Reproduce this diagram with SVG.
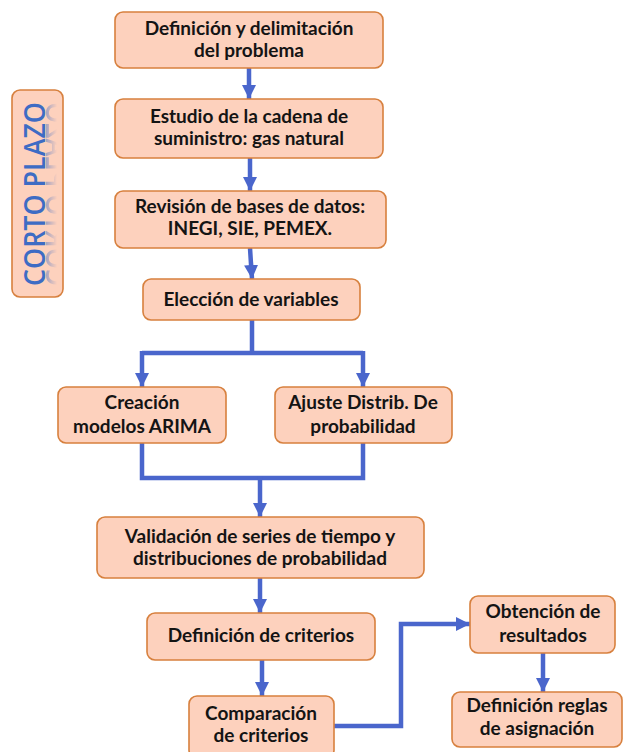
<svg xmlns="http://www.w3.org/2000/svg" width="623" height="752" viewBox="0 0 623 752">
<defs>
<style>
.box{fill:#FDD1BD;stroke:#D7803E;stroke-width:1.6}
.t{font-family:Lato,"Open Sans",sans-serif;font-weight:bold;font-size:19px;fill:#141414;text-anchor:middle}
.c{fill:none;stroke:#4A66CC;stroke-width:4.5;stroke-linejoin:miter}
.side{font-family:"Open Sans",Lato,sans-serif;font-size:28px;font-weight:600;fill:#3E6CC4;text-anchor:middle}
</style>
<marker id="ah" markerUnits="userSpaceOnUse" markerWidth="16" markerHeight="14" refX="14" refY="7" orient="auto">
<path d="M0,0 L14,7 L0,14 Z" fill="#4A66CC"/>
</marker>
<linearGradient id="fade" gradientUnits="userSpaceOnUse" x1="45" y1="0" x2="57" y2="0">
<stop offset="0" stop-color="#fff" stop-opacity="0.5"/>
<stop offset="1" stop-color="#fff" stop-opacity="0"/>
</linearGradient>
<mask id="rm" maskUnits="userSpaceOnUse" x="0" y="0" width="623" height="752">
<rect x="0" y="0" width="623" height="752" fill="url(#fade)"/>
</mask>
</defs>
<rect width="623" height="752" fill="#fff"/>
<g id="side">
<rect class="box" x="12" y="90" width="51" height="207" rx="8"/>
<g mask="url(#rm)">
<text class="side" transform="translate(46,194) rotate(-90) scale(1,-1)" textLength="184" lengthAdjust="spacingAndGlyphs">CORTO PLAZO</text>
</g>
<text class="side" transform="translate(45,194) rotate(-90)" textLength="184" lengthAdjust="spacingAndGlyphs">CORTO PLAZO</text>
</g>
<g id="connectors">
<path class="c" d="M249,68 V99" marker-end="url(#ah)"/>
<path class="c" d="M250,158 V191" marker-end="url(#ah)"/>
<path class="c" d="M250,248 L252,279" marker-end="url(#ah)"/>
<path class="c" d="M252,320 V353 M142,353 H363"/>
<path class="c" d="M142,351 V387" marker-end="url(#ah)"/>
<path class="c" d="M363,351 V387" marker-end="url(#ah)"/>
<path class="c" d="M142,443 V478 H363 V443"/>
<path class="c" d="M260,476 V517" marker-end="url(#ah)"/>
<path class="c" d="M260,578 V613" marker-end="url(#ah)"/>
<path class="c" d="M262,660 V696" marker-end="url(#ah)"/>
<path class="c" d="M334,726 H401 V624 H470" marker-end="url(#ah)"/>
<path class="c" d="M543,653 V692" marker-end="url(#ah)"/>
</g>
<g id="n1"><rect class="box" x="115" y="12" width="268" height="56" rx="8"/>
<text class="t" x="249" y="35">Definición y delimitación</text><text class="t" x="249" y="57">del problema</text></g>
<g id="n2"><rect class="box" x="115" y="99" width="268" height="59" rx="8"/>
<text class="t" x="249" y="123">Estudio de la cadena de</text><text class="t" x="249" y="145">suministro: gas natural</text></g>
<g id="n3"><rect class="box" x="115" y="191" width="271" height="57" rx="8"/>
<text class="t" x="250" y="213">Revisión de bases de datos:</text><text class="t" x="250" y="235">INEGI, SIE, PEMEX.</text></g>
<g id="n4"><rect class="box" x="143" y="279" width="217" height="41" rx="8"/>
<text class="t" x="251" y="306">Elección de variables</text></g>
<g id="n5"><rect class="box" x="58" y="387" width="168" height="56" rx="8"/>
<text class="t" x="142" y="409">Creación</text><text class="t" x="142" y="433">modelos ARIMA</text></g>
<g id="n6"><rect class="box" x="275" y="387" width="177" height="56" rx="8"/>
<text class="t" x="363" y="409">Ajuste Distrib. De</text><text class="t" x="363" y="433">probabilidad</text></g>
<g id="n7"><rect class="box" x="97" y="517" width="327" height="61" rx="8"/>
<text class="t" x="260" y="543">Validación de series de tiempo y</text><text class="t" x="260" y="565">distribuciones de probabilidad</text></g>
<g id="n8"><rect class="box" x="147" y="613" width="228" height="47" rx="8"/>
<text class="t" x="261" y="642">Definición de criterios</text></g>
<g id="n9"><rect class="box" x="189" y="696" width="145" height="62" rx="8"/>
<text class="t" x="261" y="720">Comparación</text><text class="t" x="261" y="742">de criterios</text></g>
<g id="n10"><rect class="box" x="470" y="596" width="145" height="57" rx="8"/>
<text class="t" x="543" y="618">Obtención de</text><text class="t" x="543" y="642">resultados</text></g>
<g id="n11"><rect class="box" x="452" y="692" width="170" height="55" rx="8"/>
<text class="t" x="537" y="712">Definición reglas</text><text class="t" x="537" y="735">de asignación</text></g>
</svg>
